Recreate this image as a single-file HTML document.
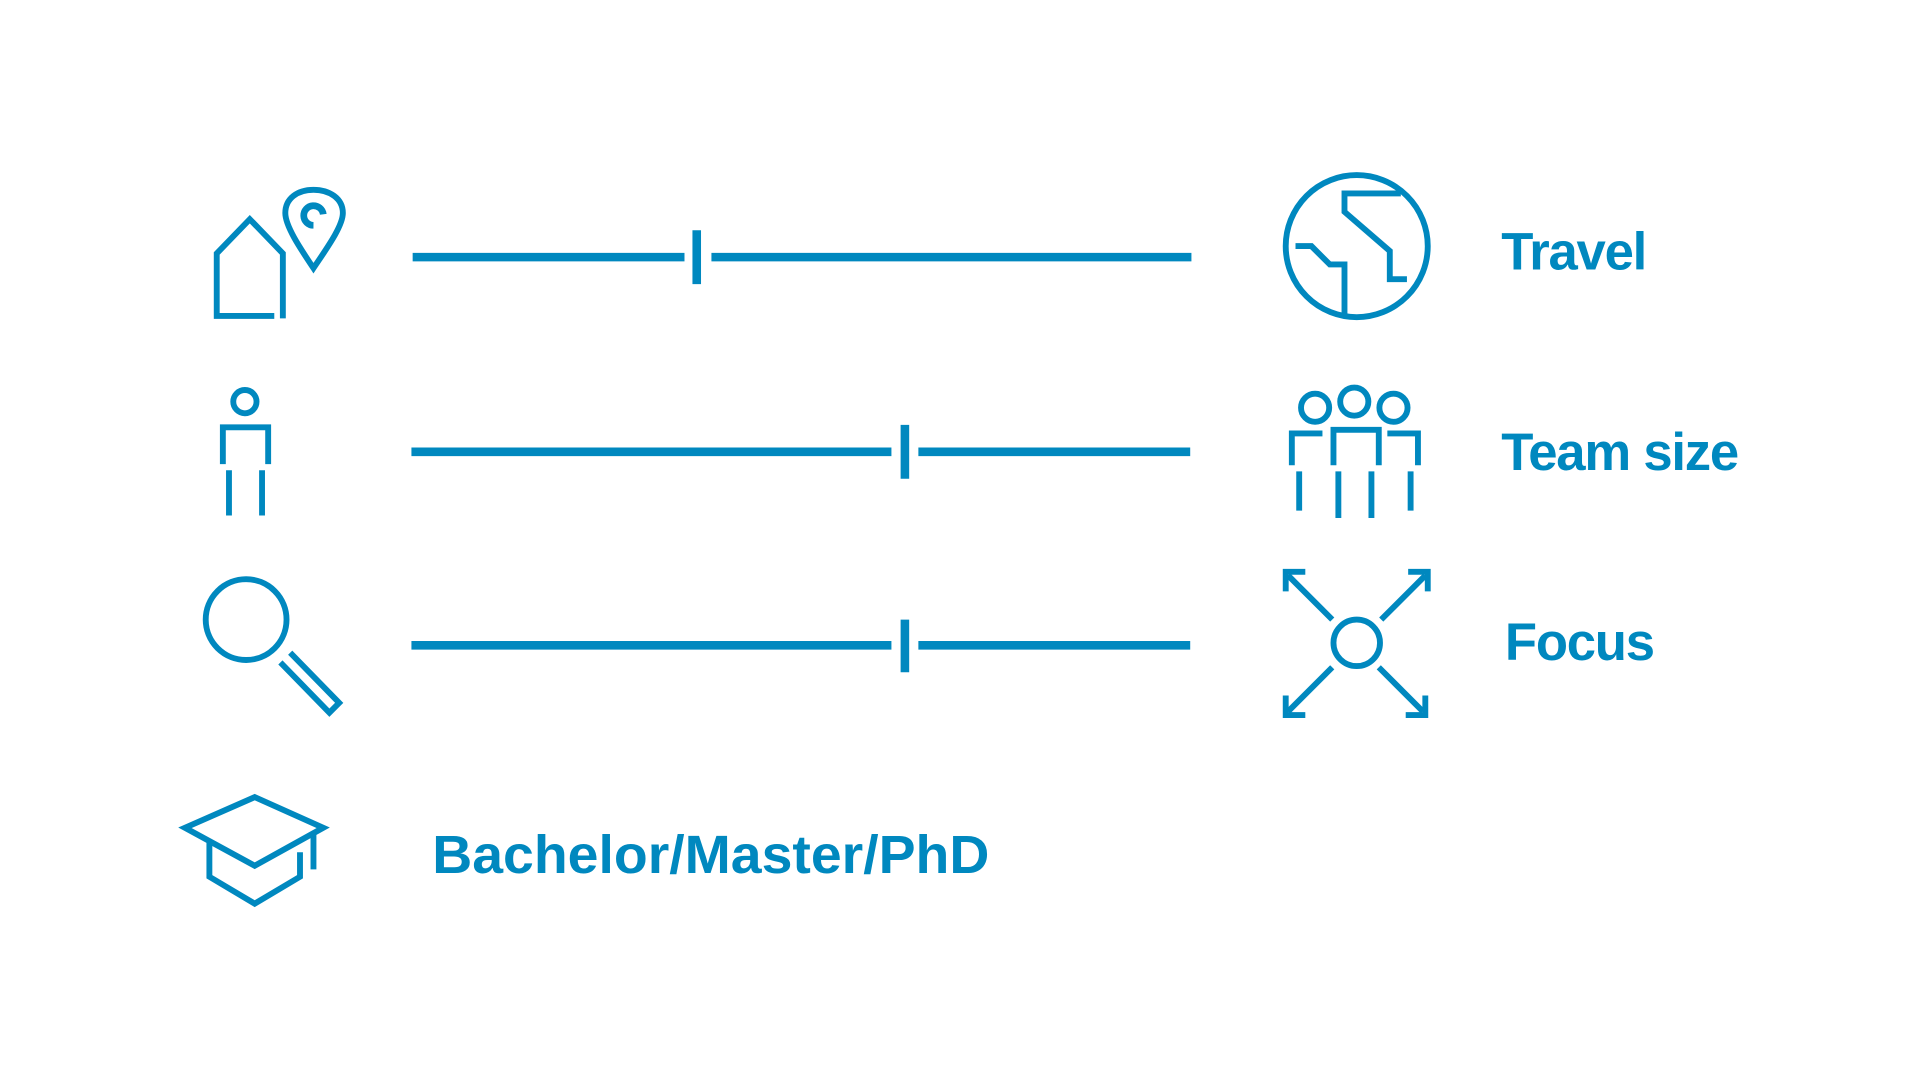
<!DOCTYPE html>
<html><head><meta charset="utf-8"><style>
html,body{margin:0;padding:0;background:#fff;width:1920px;height:1080px;overflow:hidden}
svg{display:block}
text{font-family:"Liberation Sans",Arial,sans-serif;font-weight:bold;fill:#0088BF;letter-spacing:-1px}
</style></head><body>
<svg width="1920" height="1080" viewBox="0 0 1568 882" preserveAspectRatio="none">
<g fill="none" stroke="#0088BF" stroke-width="4.8" stroke-linecap="butt" stroke-linejoin="miter">
<g stroke-width="7">
<line x1="337" y1="210" x2="559" y2="210"/><line x1="581" y1="210" x2="973" y2="210"/>
<line x1="336" y1="369" x2="728" y2="369"/><line x1="750" y1="369" x2="972" y2="369"/>
<line x1="336" y1="527" x2="728" y2="527"/><line x1="750" y1="527" x2="972" y2="527"/>
</g>
<g stroke-width="7">
<line x1="569" y1="188" x2="569" y2="232"/>
<line x1="739" y1="347" x2="739" y2="391"/>
<line x1="739" y1="506" x2="739" y2="549"/>
</g>
<polyline points="224,258 177,258 177,207 204,179 231,207 231,260"/>
<path d="M256,219 C246,204 233,185 233,174 C233,162 243,155 256,155 C269,155 280,162 280,174 C280,185 266,204 256,219 Z"/>
<path d="M264,175 A8,8 0 1 0 256,184" stroke-width="5.5"/>
<circle cx="200" cy="328" r="9.5"/>
<polyline points="182,379 182,349 219,349 219,379"/>
<line x1="187" y1="384" x2="187" y2="421"/><line x1="214" y1="384" x2="214" y2="421"/>
<circle cx="201" cy="506" r="33"/>
<polyline points="237,533 277,574 269,582 229,541"/>
<polygon points="151,676 208,651 264,676 208,707"/>
<polyline points="171,688 171,716 208,738 245,716 245,696"/>
<line x1="256" y1="680" x2="256" y2="710"/>
<circle cx="1108" cy="201" r="58"/>
<polyline points="1058,201 1071,201 1086,216 1098,216 1098,257"/>
<polyline points="1144,158 1098,158 1098,173 1135,205 1135,228 1149,228"/>
<circle cx="1074" cy="333" r="11.5"/><circle cx="1106" cy="328" r="11.5"/><circle cx="1138" cy="333" r="11.5"/>
<polyline points="1055,380 1055,354 1080,354"/>
<polyline points="1089,380 1089,351 1126,351 1126,380"/>
<polyline points="1133,354 1158,354 1158,380"/>
<line x1="1061" y1="385" x2="1061" y2="417"/><line x1="1093" y1="385" x2="1093" y2="423"/>
<line x1="1120" y1="385" x2="1120" y2="423"/><line x1="1152" y1="385" x2="1152" y2="417"/>
<circle cx="1108" cy="525" r="19"/>
<line x1="1088" y1="506" x2="1052" y2="470"/><polyline points="1066,467 1050,467 1050,483"/>
<line x1="1128" y1="506" x2="1164" y2="470"/><polyline points="1150,467 1166,467 1166,483"/>
<line x1="1088" y1="545" x2="1052" y2="581"/><polyline points="1050,568 1050,584 1066,584"/>
<line x1="1126" y1="545" x2="1162" y2="581"/><polyline points="1164,568 1164,584 1148,584"/>
</g>
<text x="1226" y="220" font-size="43">Travel</text>
<text x="1226" y="384" font-size="43">Team size</text>
<text x="1229" y="539" font-size="43">Focus</text>
<text x="353" y="713" font-size="44" style="letter-spacing:0" textLength="455" lengthAdjust="spacingAndGlyphs">Bachelor/Master/PhD</text>
</svg>
</body></html>
